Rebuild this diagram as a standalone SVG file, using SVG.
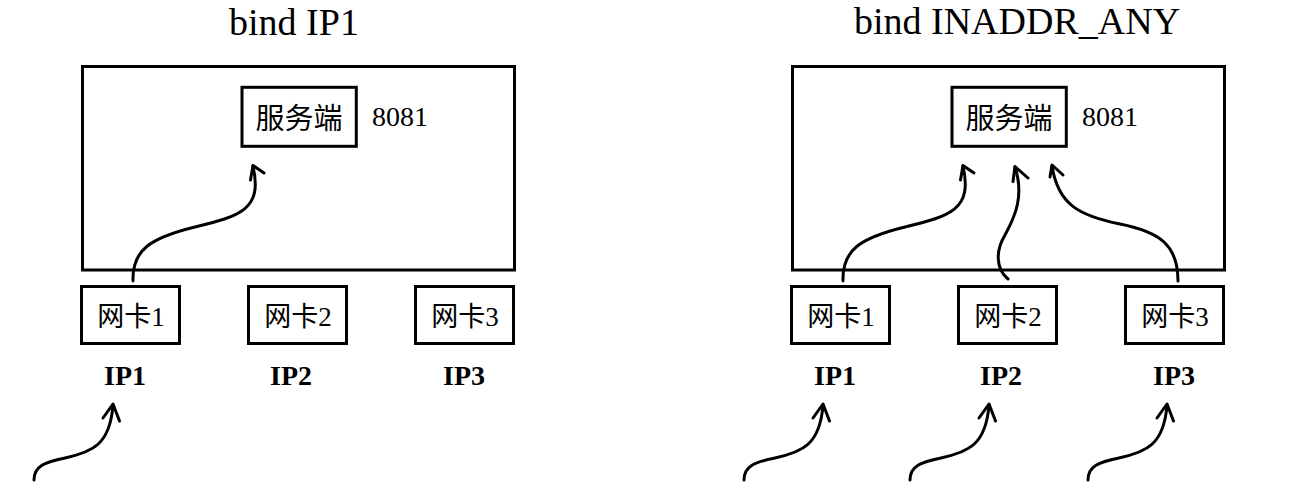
<svg xmlns="http://www.w3.org/2000/svg" width="1302" height="499" viewBox="0 0 1302 499">
<style>
.box{fill:none;stroke:#000;stroke-width:3}
.ln{fill:none;stroke:#000;stroke-width:3;stroke-linecap:round;stroke-linejoin:round}
.title{font-family:"Liberation Serif","Noto Sans CJK SC",serif;font-size:38px;text-anchor:middle}
.cj{font-family:"Liberation Serif","Noto Sans CJK SC",serif;text-anchor:middle}
.port{font-family:"Liberation Serif",serif;font-size:28px}
.ip{font-family:"Liberation Serif",serif;font-size:28px;font-weight:bold;text-anchor:middle}
</style>
<rect width="1302" height="499" fill="#fff"/>
<text class="title" x="294" y="34.5">bind IP1</text>
<text class="title" x="1017" y="34">bind INADDR_ANY</text>
<g id="host1"><rect class="box" x="82.5" y="66.5" width="432" height="203.5"/></g>
<g id="server1"><rect class="box" x="242" y="87.3" width="114.3" height="59"/><text class="cj" x="299" y="129" font-size="29">服务端</text></g>
<text class="port" x="372" y="126">8081</text>
<g id="nic1a"><rect class="box" x="81.5" y="286.5" width="98" height="57"/><text class="cj" x="131" y="325.5" font-size="27">网卡1</text></g>
<g id="nic2a"><rect class="box" x="248.5" y="286.5" width="98" height="57"/><text class="cj" x="298" y="325.5" font-size="27">网卡2</text></g>
<g id="nic3a"><rect class="box" x="415.5" y="286.5" width="98" height="57"/><text class="cj" x="465" y="325.5" font-size="27">网卡3</text></g>
<text class="ip" x="125" y="385">IP1</text>
<text class="ip" x="291" y="385">IP2</text>
<text class="ip" x="464" y="385">IP3</text>
<g id="host2"><rect class="box" x="792.5" y="66.5" width="432" height="203.5"/></g>
<g id="server2"><rect class="box" x="952" y="87.3" width="114.3" height="59"/><text class="cj" x="1009" y="129" font-size="29">服务端</text></g>
<text class="port" x="1082" y="126">8081</text>
<g id="nic1b"><rect class="box" x="791.5" y="286.5" width="98" height="57"/><text class="cj" x="841" y="325.5" font-size="27">网卡1</text></g>
<g id="nic2b"><rect class="box" x="958.5" y="286.5" width="98" height="57"/><text class="cj" x="1008" y="325.5" font-size="27">网卡2</text></g>
<g id="nic3b"><rect class="box" x="1125.5" y="286.5" width="98" height="57"/><text class="cj" x="1175" y="325.5" font-size="27">网卡3</text></g>
<text class="ip" x="835" y="385">IP1</text>
<text class="ip" x="1001" y="385">IP2</text>
<text class="ip" x="1174" y="385">IP3</text>
<g id="connectors">
<path class="ln" d="M133,281 C132,250 150,238 195,227 C240,216 263,210 253,166"/>
<polyline class="ln" points="250.5,180 253,165.5 264,173"/>
<path class="ln" d="M34,480 C34,466 45,462 65,458 C92,452 110,445 113,405"/>
<polyline class="ln" points="103,418 113,404 119.5,421"/>
<path class="ln" d="M843,281 C842,250 860,238 905,227 C950,216 973,210 963,166"/>
<polyline class="ln" points="960.5,180 963,165.5 974,173"/>
<path class="ln" d="M1008,279 C995,268 996,250 1005,235 C1016,215 1024,195 1015,167"/>
<polyline class="ln" points="1013,181.5 1015,166.5 1028,178"/>
<path class="ln" d="M1178,281 C1178,245 1160,232 1120,224 C1080,216 1058,205 1052,166"/>
<polyline class="ln" points="1050,177 1052,165 1063,175"/>
<path class="ln" d="M744,480 C744,466 755,462 775,458 C802,452 820,445 823,405"/>
<polyline class="ln" points="813,418 823,404 829.5,421"/>
<path class="ln" d="M910,480 C910,466 921,462 941,458 C968,452 986,445 989,405"/>
<polyline class="ln" points="979,418 989,404 995.5,421"/>
<path class="ln" d="M1088,480 C1088,466 1099,462 1119,458 C1146,452 1164,445 1167,405"/>
<polyline class="ln" points="1157,418 1167,404 1173.5,421"/>
</g>
</svg>
